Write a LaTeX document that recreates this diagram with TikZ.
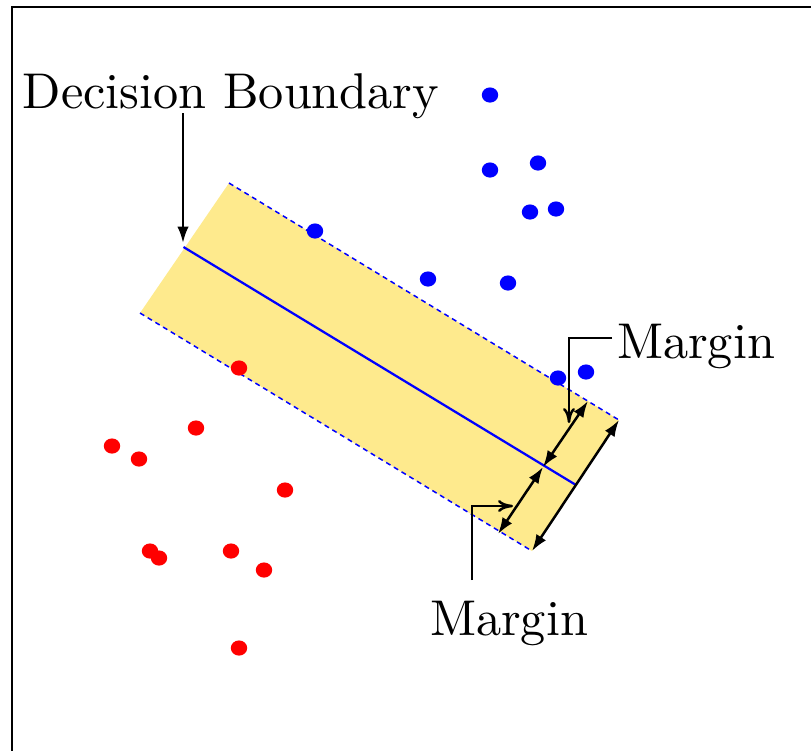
\documentclass[tikz,border=0pt]{standalone}
\usetikzlibrary{arrows.meta}
\definecolor{bandyellow}{RGB}{254,234,141}
\tikzset{
  label text/.style={font=\fontsize{10.05}{12}\selectfont, inner sep=0pt, anchor=base},
  band edge/.style={blue, line width=0.3pt, dash pattern=on 1pt off 0.8pt},
  boundary/.style={blue, line width=0.45pt},
  width arrow/.style={{Latex[length=3.3pt,width=2.3pt]}-{Latex[length=3.3pt,width=2.3pt]}, line width=0.5pt},
  pointer/.style={-{Computer Modern Rightarrow[length=3pt,width=2.4pt]}, line width=0.5pt},
  pointer filled/.style={-{Latex[length=3.3pt,width=2.3pt]}, line width=0.5pt}
}
\newcommand{\mydot}[3]{\fill[#1] (#2,#3) ellipse [x radius=8.2, y radius=7.6];}
\begin{document}
\begin{tikzpicture}[x=0.2pt,y=-0.2pt]
\useasboundingbox (0,0) rectangle (811,750);
% frame
\draw[line width=0.45pt] (12,760) -- (12,7) -- (820,7);

% band
\coordinate (tl) at (229,183);
\coordinate (bl) at (140,313);
\coordinate (br) at (532,551);
\coordinate (tr) at (619,420);
\fill[bandyellow] (tl) -- (tr) -- (br) -- (bl) -- cycle;
\draw[band edge] (tl) -- (tr);
\draw[band edge] (bl) -- (br);

% decision boundary
\coordinate (db1) at (183.5,247);
\coordinate (db2) at (576,485);
\draw[boundary] (db1) -- (db2);

% margin arrows
\coordinate (mid) at (543,467);
\coordinate (up) at (588,401);
\coordinate (dn) at (498,534);
\draw[width arrow] (mid) -- (up);
\draw[width arrow] (mid) -- (dn);
\draw[width arrow] (br) -- (tr);

% blue dots
\mydot{blue}{490}{95}
\mydot{blue}{490}{170}
\mydot{blue}{538}{163}
\mydot{blue}{530}{212}
\mydot{blue}{556}{209}
\mydot{blue}{315}{231}
\mydot{blue}{428}{279}
\mydot{blue}{508}{283}
\mydot{blue}{558}{378}
\mydot{blue}{586}{372}
% red dots
\mydot{red}{239}{368}
\mydot{red}{196}{428}
\mydot{red}{112}{446}
\mydot{red}{139}{459}
\mydot{red}{285}{490}
\mydot{red}{150}{551}
\mydot{red}{159}{558}
\mydot{red}{231}{551}
\mydot{red}{264}{570}
\mydot{red}{239}{648}

% labels
\node[label text] (dbl) at (231,108) {Decision Boundary};
\node[label text] (mu) at (696,358) {Margin};
\node[label text] (ml) at (509,635) {Margin};

% pointers
\coordinate (dbs) at (183,113);
\coordinate (dbt) at (183,243);
\draw[pointer filled] (dbs) -- (dbt);

\coordinate (mus) at (612,338);
\coordinate (mut) at (569,423);
\draw[pointer] (mus) -| (mut);

\coordinate (mls) at (472,580);
\coordinate (mlt) at (513,506);
\draw[pointer] (mls) |- (mlt);
\end{tikzpicture}
\end{document}
